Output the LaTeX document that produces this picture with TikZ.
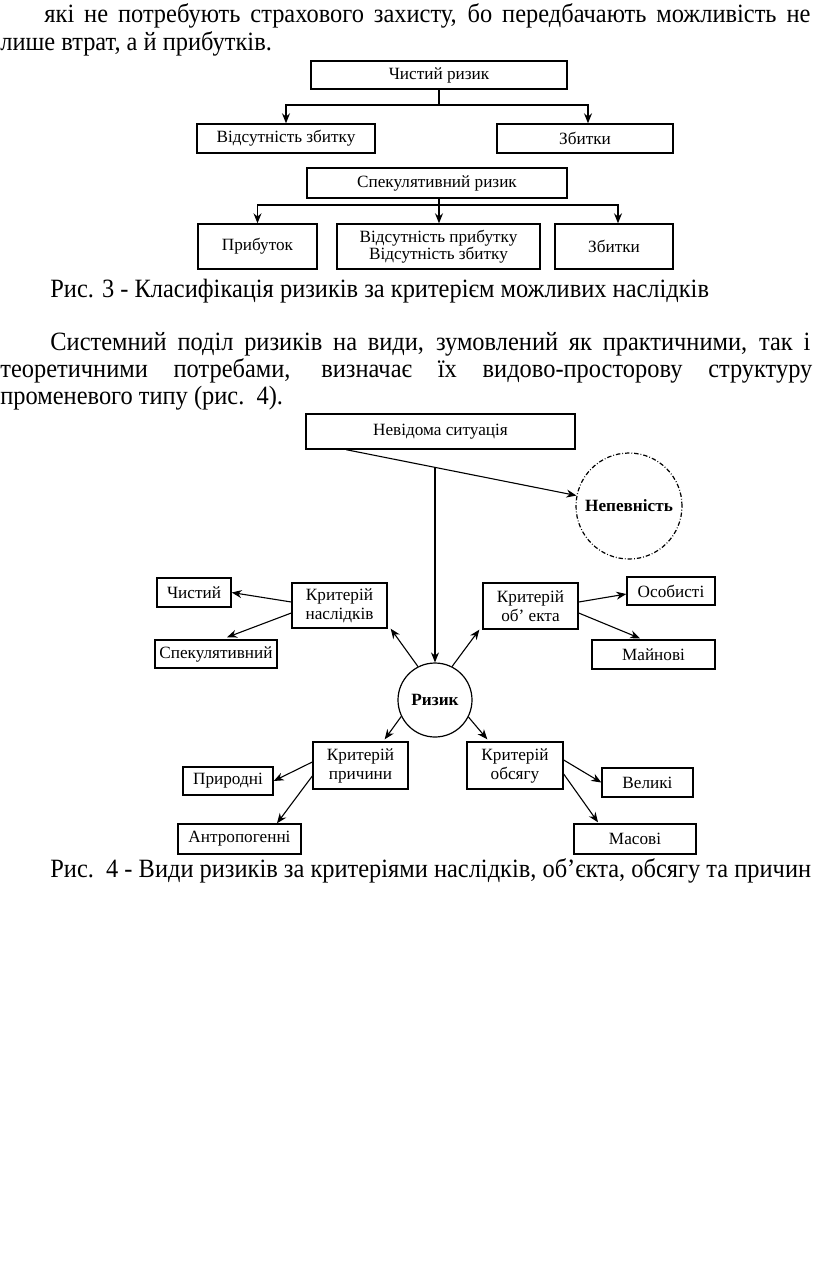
\documentclass[tikz,border=0pt]{standalone}
\usepackage{fontspec}
\setmainfont{Liberation Serif}
\newfontfamily\bodyfam[FakeStretch=0.925]{Liberation Serif}
\usetikzlibrary{arrows.meta,calc}
\newcommand\dfont{\fontsize{8.6}{9}\selectfont}
\newcommand\bfont{\bodyfam\fontsize{13.2}{14}\selectfont}
\newcommand{\bx}[6]{\node[bx,minimum width={(#4-#2)*0.5pt},minimum height={(#5-#3)*0.5pt}] (#1) at ({(#2+#4)/2},{(#3+#5)/2+1}) {#6};}
\begin{document}
\begin{tikzpicture}[x=0.5pt,y=-0.5pt,
  bx/.style={draw,line width=0.7pt,inner sep=0pt,font=\dfont,align=center},
  circ/.style={circle,draw,line width=0.6pt,inner sep=0pt,font=\dfont\bfseries},
  arr/.style={-{Stealth[length=5pt,width=4pt]},line width=0.55pt},
  ln/.style={line width=0.55pt},
  txt/.style={anchor=base west,inner sep=0pt,font=\bfont}]
\fill[white] (0,0) rectangle (816,1276);
\useasboundingbox (0,0) rectangle (816,1276);
% body text
\node[txt] (t1) at (44,22) {\makebox[383pt][s]{які не потребують страхового захисту, бо передбачають можливість не}};
\node[txt] (t2) at (0,50) {лише втрат, а й прибутків.};
\node[txt] (t3) at (50,297) {Рис. 3 - Класифікація ризиків за критерієм можливих наслідків};
\node[txt] (t4) at (50,350) {\makebox[380pt][s]{Системний поділ ризиків на види, зумовлений як практичними, так і}};
\node[txt] (t5) at (0,377) {\makebox[406pt][s]{теоретичними потребами, визначає їх видово-просторову структуру}};
\node[txt] (t6) at (0,404) {променевого типу (рис.\ \ 4).};
\node[txt] (t7) at (50,877) {Рис.\ \ 4 - Види ризиків за критеріями наслідків, об’єкта, обсягу та причин};
% figure 3
\bx{c1}{311}{60}{567}{88}{Чистий ризик}
\bx{b1}{197}{123}{375}{152}{Відсутність збитку}
\bx{b2}{497}{123}{673}{152}{Збитки}
\bx{s1}{307}{167}{567}{197}{Спекулятивний ризик}
\bx{p1}{198}{223}{317}{268}{Прибуток}
\bx{p2}{337}{223}{540}{268}{Відсутність прибутку\\[-0.5pt]Відсутність збитку}
\bx{p3}{555}{223}{673}{268}{Збитки}
\coordinate (h1) at (439,105);
\coordinate (h2) at (439,205);
\draw[ln] (h1 |- c1.south) -- (h1);
\draw[arr] (h1) -| (b1.north);
\draw[arr] (h1) -| ([xshift=1.5pt]b2.north);
\draw[arr] (h2 |- s1.south) -- (h2 |- p2.north);
\draw[arr] (h2) -| (p1.north);
\draw[arr] (h2) -| ([xshift=2pt]p3.north);
% figure 4
\bx{nev}{306}{413}{575}{448}{Невідома ситуація}
\node[circ,dash pattern=on 2.2pt off 1pt on 0.4pt off 1pt,minimum size=53pt] (unc) at (629,506) {Непевність};
\node[circ,minimum size=37pt] (risk) at (435,700) {Ризик};
\bx{kn}{292}{582}{387}{627}{Критерій\\[0.5pt]наслідків}
\bx{ko}{483}{582}{578}{628}{Критерій\\[0.5pt]об’ екта}
\bx{chist}{157}{577}{231}{606}{Чистий}
\bx{spek}{155}{639}{277}{667}{Спекулятивний}
\bx{osob}{627}{576}{715}{604}{Особисті}
\bx{main}{592}{639}{715}{668}{Майнові}
\bx{kp}{313}{741}{408}{788}{Критерій\\[0.5pt]причини}
\bx{ko2}{467}{741}{563}{788}{Критерій\\[0.5pt]обсягу}
\bx{pr}{183}{766}{273}{794}{Природні}
\bx{ant}{178}{823}{301}{853}{Антропогенні}
\bx{vel}{602}{767}{693}{796}{Великі}
\bx{mas}{574}{823}{696}{853}{Масові}
\coordinate (d0) at ($(nev.south west)+(41,0)$);
\coordinate (d1) at (435,467);
\draw[arr] (d0) -- (unc);
\draw[arr] (d1) -- (risk.north);
\draw[arr] (risk.117) -- ([xshift=1.5pt]kn.south east);
\draw[arr] (risk.63) -- ([xshift=-1.5pt]ko.south west);
\draw[arr] (risk.206) -- ([xshift=-12pt,yshift=1pt]kp.north east);
\draw[arr] (risk.333) -- ([xshift=10.5pt,yshift=1pt]ko2.north west);
\draw[arr] ([yshift=1.75pt]kn.west) -- (chist.east);
\draw[arr] ([yshift=-3.75pt]kn.west) -- ([xshift=5.5pt,yshift=1pt]spek.north);
\draw[arr] ([yshift=2pt]ko.east) -- ([yshift=-1.5pt]osob.west);
\draw[arr] ([yshift=-3.5pt]ko.east) -- ([xshift=-6.75pt,yshift=0.5pt]main.north);
\draw[arr] ([yshift=1.75pt]kp.west) -- (pr.east);
\draw[arr] ([yshift=-5.25pt]kp.west) -- ([xshift=18.75pt]ant.north);
\draw[arr] ([yshift=2.75pt]ko2.east) -- (vel.west);
\draw[arr] ([yshift=-4.25pt]ko2.east) -- ([xshift=-18.5pt,yshift=0.5pt]mas.north);
\end{tikzpicture}
\end{document}
